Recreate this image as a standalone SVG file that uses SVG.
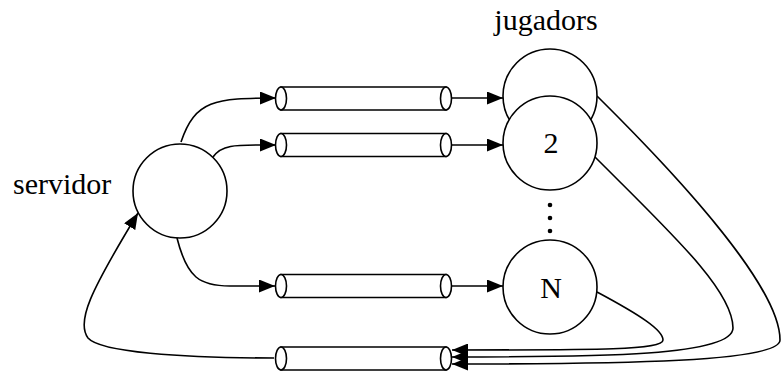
<svg xmlns="http://www.w3.org/2000/svg" width="781" height="371" viewBox="0 0 781 371">
  <defs>
    <marker id="arrow" markerUnits="userSpaceOnUse" markerWidth="16" markerHeight="13" refX="16" refY="6.5" orient="auto">
      <path d="M0,0 L16,6.5 L0,13 z" fill="#000"/>
    </marker>
  </defs>
  <style>
    .node { fill: #fff; stroke: #000; stroke-width: 1.6; }
    .tube { fill: #fff; stroke: #000; stroke-width: 1.6; }
    .edge { fill: none; stroke: #000; stroke-width: 1.6; }
    .label { font-size: 30px; fill: #000; }
  </style>

  <rect width="781" height="371" fill="#fff"/>

  <!-- labels -->
  <g font-family="Liberation Serif, DejaVu Serif, serif">
    <text class="label" x="546" y="30" text-anchor="middle">jugadors</text>
    <text class="label" x="13" y="194">servidor</text>
  </g>

  <!-- connectors -->
  <g id="connectors">
    <!-- servidor to channels -->
    <path class="edge" d="M181,142 C195,100 215,98 276,98" marker-end="url(#arrow)"/>
    <path class="edge" d="M213,157 C222,144 235,145 276,145" marker-end="url(#arrow)"/>
    <path class="edge" d="M177,238 C187,278 200,286 230,286 L275,286" marker-end="url(#arrow)"/>
    <!-- channels to players -->
    <path class="edge" d="M451,98 L503,98" marker-end="url(#arrow)"/>
    <path class="edge" d="M451,145 L503,145" marker-end="url(#arrow)"/>
    <path class="edge" d="M451,286 L503,286" marker-end="url(#arrow)"/>
    <!-- players back to the return channel -->
    <path class="edge" d="M597,96 C690,188 780,290 780,340 C780,362 620,364 452,364" marker-end="url(#arrow)"/>
    <path class="edge" d="M595,157 C670,232 733,290 733,328 C733,356 600,357 452,357" marker-end="url(#arrow)"/>
    <path class="edge" d="M597,292 C640,315 663,330 663,340 C663,350 600,350 452,350" marker-end="url(#arrow)"/>
    <!-- return channel to servidor -->
    <path class="edge" d="M274,358 C180,358 100,352 88,338 C76,322 90,292 138,213" marker-end="url(#arrow)"/>
  </g>

  <!-- channels -->
  <g id="canal1">
    <path class="tube" d="M281,87 L446,87 L446,110 L281,110 z"/>
    <ellipse class="tube" cx="281" cy="98.5" rx="5.5" ry="11.5"/>
    <ellipse class="tube" cx="446" cy="98.5" rx="5.5" ry="11.5"/>
  </g>
  <g id="canal2">
    <path class="tube" d="M281,133.5 L446,133.5 L446,156.5 L281,156.5 z"/>
    <ellipse class="tube" cx="281" cy="145" rx="5.5" ry="11.5"/>
    <ellipse class="tube" cx="446" cy="145" rx="5.5" ry="11.5"/>
  </g>
  <g id="canal3">
    <path class="tube" d="M281,274.5 L446,274.5 L446,297.5 L281,297.5 z"/>
    <ellipse class="tube" cx="281" cy="286" rx="5.5" ry="11.5"/>
    <ellipse class="tube" cx="446" cy="286" rx="5.5" ry="11.5"/>
  </g>
  <g id="canal-retorn">
    <path class="tube" d="M281,347 L446,347 L446,370 L281,370 z"/>
    <ellipse class="tube" cx="281" cy="358.5" rx="5.5" ry="11.5"/>
    <ellipse class="tube" cx="446" cy="358.5" rx="5.5" ry="11.5"/>
  </g>

  <!-- nodes -->
  <g id="servidor">
    <circle class="node" cx="180" cy="191" r="47"/>
  </g>
  <g id="jugador1">
    <circle class="node" cx="550" cy="96" r="47"/>
  </g>
  <g id="jugador2">
    <circle class="node" cx="550" cy="143" r="47"/>
    <text class="label" x="551" y="153" text-anchor="middle" font-family="Liberation Serif, DejaVu Serif, serif">2</text>
  </g>
  <g id="punts">
    <circle cx="550" cy="205" r="2.3" fill="#000"/>
    <circle cx="550" cy="218" r="2.3" fill="#000"/>
    <circle cx="550" cy="231" r="2.3" fill="#000"/>
  </g>
  <g id="jugadorN">
    <circle class="node" cx="550" cy="287" r="47"/>
    <text class="label" x="551" y="298" text-anchor="middle" font-family="Liberation Serif, DejaVu Serif, serif">N</text>
  </g>
</svg>
